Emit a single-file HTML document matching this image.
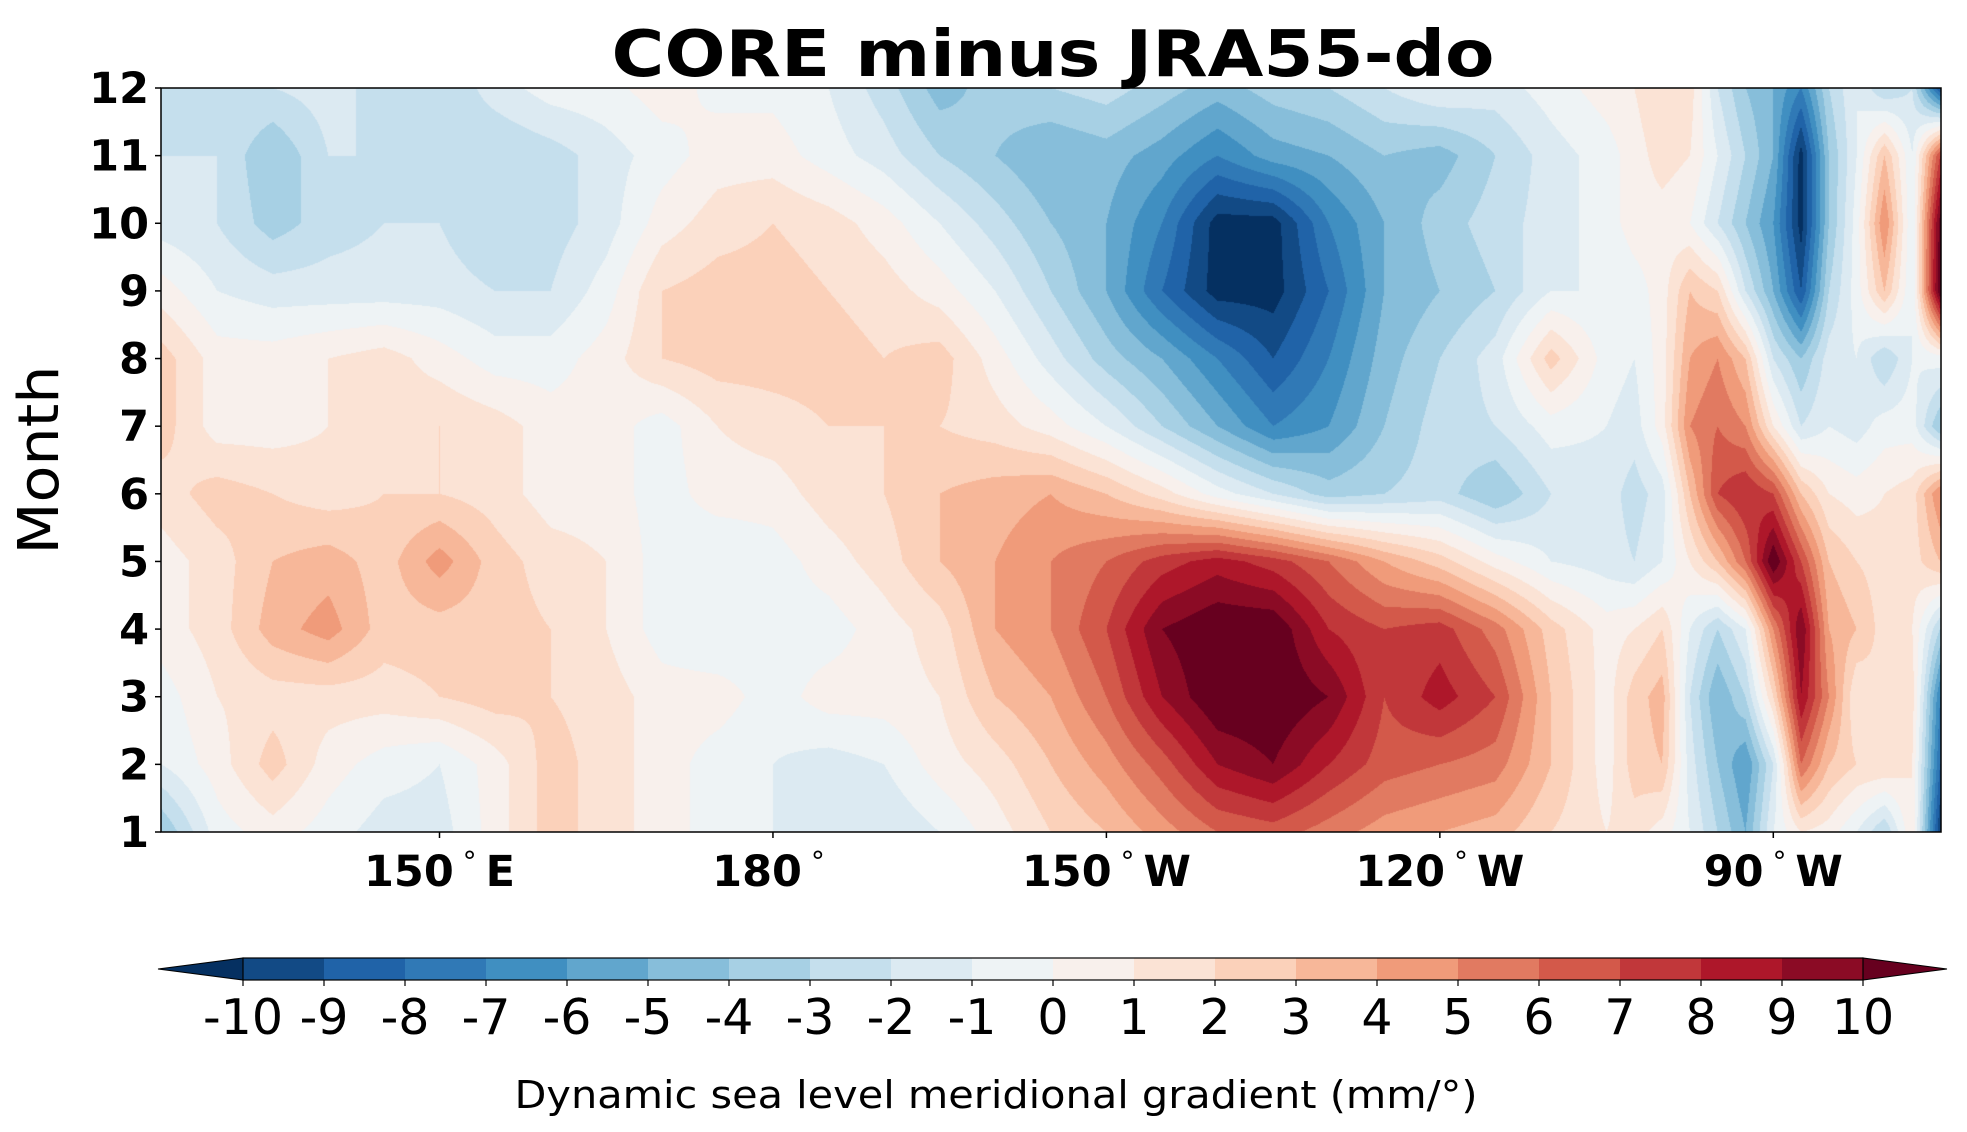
<!DOCTYPE html>
<html><head><meta charset="utf-8">
<style>
html,body{margin:0;padding:0;background:#fff;}
#wrap{position:relative;width:1967px;height:1132px;overflow:hidden;}
#heat{position:absolute;left:161px;top:88px;}
svg{position:absolute;left:0;top:0;}
text{font-family:"DejaVu Sans","Liberation Sans",sans-serif;fill:#000;}
</style></head>
<body>
<div id="wrap">
<canvas id="heat" width="1780" height="744"></canvas>
<svg id="svg" width="1967" height="1132"></svg>
</div>
<script>
const lons=[125,130,135,140,145,150,155,160,165,170,175,180,185,190,195,200,205,210,215,220,225,230,235,240,245,250,255,257.5,260,262.5,265,267.5,270,272.5,275,277.5,280,282.5,285];
const months=[1,2,3,4,5,6,7,8,9,10,11,12];
const m1=[-4,-0.5,0.5,-0.5,-1.5,-1.5,0.5,2.5,1.5,0.5,-0.5,-1,-2,-2,-1,0.5,2,3,4.5,6,6.5,5.5,4.5,4,3.5,2,1,1.5,0.5,-1,-3,-5,-1,1,0.5,-1,-3,1,-10];
const m2=[-1,0.5,2.5,0.5,-0.5,-1,0.5,2.5,1.5,0.5,-0.5,-1,-1.5,-1,0.5,1.5,3,4.5,6.5,9,10,8,6.5,6,5.5,3,0.5,2.5,3,-1.5,-4,-6,-2,6,3,2,2,1,-8];
const m3=[-0.5,1,1.5,1.5,1.5,2,2.5,2,1.5,0.5,0.5,-0.5,0.5,0.5,1,3,4,6,9,11,11,10,7,8.5,7,3,0.5,2.5,3.5,-2,-5,-3,2,9,5,1,2,1.5,-7];
const m4=[0.5,1.5,3.5,4.5,2.5,2.5,2.5,2,1,-0.5,-1,-0.5,-0.5,0.5,1.5,4,5,7,10,11,11,8,7,7.5,5.5,2.5,0.5,1,2,-1,-3,-1,5,10,4,3,1.5,1,-3];
const m5=[0.5,1.5,3,3.5,2.5,4.5,2.5,1.5,1,-0.5,-1,-0.5,0.5,1.5,3,4,5,6,7.5,8.5,7.5,6,4,2.5,0.5,-1,-1.5,-2,-1,1,3,6,11,7,3,2,1.5,1.5,3];
const m6=[1.5,2.5,2,1.5,2,2,1.5,0.5,0.5,-0.5,0.5,0.5,1.5,2,3,3.5,4,3,1.5,-0.5,-2,-3.5,-3,-2.5,-4,-2,-1.5,-2.5,-1.5,3,7,8,7,3,1,0.5,1,1.5,5];
const m7=[2.5,0.5,0.5,1,1.5,2,1.5,0.5,0.5,-0.5,1,1.5,2,2,2,1.5,0.5,-1,-3,-5,-7,-6,-4,-2.5,-2,-0.5,-1,-1.5,0.5,5,6,5,1,-2,-1,-1.5,-0.5,-0.5,-4];
const m8=[2.5,0.5,0.5,1,1.5,0.5,-0.5,-0.5,0.5,2,2.5,2.5,2.5,2,2.5,0.5,-1.5,-3.5,-5,-7,-9,-7,-4.5,-3,-1.5,2.5,-0.5,-1,0.5,4,5,3,-2,-4,-1.5,-1,-3,-1,-0.5];
const m9=[0.5,-1,-1.5,-1.5,-1.5,-1.5,-2,-2,-0.5,2,2.5,2.5,2,1.5,0.5,-1,-3,-5,-8,-10.5,-10.5,-8,-5,-4,-3,-1,-1,-0.5,0.5,3,2,-2,-5,-9,-3,-0.5,3,-1,11];
const m10=[-1.5,-2,-3.5,-2.5,-2,-2,-3,-2.5,-1.5,0.5,1.5,2,1.5,0.5,-1,-2.5,-4,-5,-7,-10.5,-10.5,-7,-5,-3.5,-2.5,-1.5,-0.5,0.5,0.5,0,-2,-4,-6,-10.5,-4,-0.5,5,-1,10.5];
const m11=[-2,-2,-4,-2,-2,-2.5,-3,-2.5,-1.5,-0.5,0.5,0.5,-0.5,-1.5,-3,-4,-5,-4.5,-5.5,-7,-5.5,-5,-4,-4.5,-3,-1.5,-0.5,0.5,1.5,1,-1,-3,-5,-10.5,-4,-1,3,-1,7];
const m12=[-3,-2,-2,-1.5,-2.5,-3,-1.5,-0.5,-0.3,0.5,-0.3,-0.3,-1,-2.5,-4.5,-3.5,-3,-2.5,-3.5,-4.5,-3.5,-3,-2,-1,-1.5,-0.5,0.5,1,2,1.5,-2,-4,-5,-7,-3,-1,-3,-2,-9];
const grid=[m1,m2,m3,m4,m5,m6,m7,m8,m9,m10,m11,m12];
const cbTicks=[-10,-9,-8,-7,-6,-5,-4,-3,-2,-1,0,1,2,3,4,5,6,7,8,9,10];
const yTicks=[1,2,3,4,5,6,7,8,9,10,11,12];
const xTickLons=[150,180,210,240,270];
const xTickNames=["150","180","150","120","90"];
const xTickHem=["E","","W","W","W"];

const PL=161,PR=1941,PT=88,PB=832;
const PX=11.115, X150=439.5;
function xs(lon){return X150+(lon-150)*PX;}
function ys(m){return PB-(m-1)/11*(PB-PT);}
function xinv(x){return 150+(x-X150)/PX;}
function yinv(y){return 1+(PB-y)/(PB-PT)*11;}

const anchors=["#053061","#2166ac","#4393c3","#92c5de","#d1e5f0","#f7f7f7","#fddbc7","#f4a582","#d6604d","#b2182b","#67001f"];
function hex(h){return [parseInt(h.substr(1,2),16),parseInt(h.substr(3,2),16),parseInt(h.substr(5,2),16)];}
function cmap(t){t=Math.max(0,Math.min(1,t));const f=t*10,i=Math.min(9,Math.floor(f)),r=f-i;const a=hex(anchors[i]),b=hex(anchors[i+1]);return [0,1,2].map(k=>Math.round(a[k]+(b[k]-a[k])*r));}
function binColor(v){let idx;if(v<-10)idx=0;else if(v>=10)idx=21;else idx=1+Math.floor(v+10);return cmap(idx/21);}
function rgb(c){return "rgb("+c.join(",")+")";}

function val(lon,m){
  let i=0;while(i<lons.length-2&&lons[i+1]<lon)i++;
  let tx=(lon-lons[i])/(lons[i+1]-lons[i]);tx=Math.max(0,Math.min(1,tx));
  let j=Math.min(10,Math.max(0,Math.floor(m-1)));let ty=Math.max(0,Math.min(1,m-1-j));
  const a=grid[j][i],b=grid[j][i+1],c=grid[j+1][i],d=grid[j+1][i+1];
  return (a*(1-tx)+b*tx)*(1-ty)+(c*(1-tx)+d*tx)*ty;
}
const cv=document.getElementById('heat'),ctx=cv.getContext('2d');
const W=cv.width,H=cv.height,img=ctx.createImageData(W,H);
for(let y=0;y<H;y++){const m=yinv(PT+y+0.5);for(let x=0;x<W;x++){const c=binColor(val(xinv(PL+x+0.5),m));const p=(y*W+x)*4;img.data[p]=c[0];img.data[p+1]=c[1];img.data[p+2]=c[2];img.data[p+3]=255;}}
ctx.putImageData(img,0,0);

const svg=document.getElementById('svg');const NS="http://www.w3.org/2000/svg";
function el(tag,attrs,txt){const e=document.createElementNS(NS,tag);for(const k in attrs)e.setAttribute(k,attrs[k]);if(txt!==undefined)e.textContent=txt;svg.appendChild(e);return e;}
let e;
e=el('rect',{x:PL,y:PT,width:PR-PL,height:PB-PT,fill:'none',stroke:'#000','stroke-width':1.5});


e=el('text',{x:1053,y:76,'text-anchor':'middle','font-size':64,'font-weight':'bold',textLength:883,lengthAdjust:'spacingAndGlyphs'},'CORE minus JRA55-do');


yTicks.forEach(m=>{
  const y=ys(m);
  let t=el('line',{x1:PL-6,x2:PL,y1:y,y2:y,stroke:'#000','stroke-width':1.5});
  
  
  let l=el('text',{x:149,y:y+15,'text-anchor':'end','font-size':43,'font-weight':'bold'},String(m));
  
  
});
e=el('text',{x:0,y:0,transform:'translate(58,460) rotate(-90)','text-anchor':'middle','font-size':56,textLength:189,lengthAdjust:'spacingAndGlyphs'},'Month');


xTickLons.forEach((lon,i)=>{
  const x=xs(lon);
  let t=el('line',{x1:x,x2:x,y1:PB,y2:PB+6,stroke:'#000','stroke-width':1.5});
  
  
  let l=el('text',{x:x,y:886,'text-anchor':'middle','font-size':43,'font-weight':'bold'});
  
  
  const a=document.createElementNS(NS,'tspan');a.textContent=xTickNames[i];l.appendChild(a);
  const b=document.createElementNS(NS,'tspan');b.setAttribute('font-size','28');b.setAttribute('font-weight','normal');b.setAttribute('dy','-15');b.textContent='\u00a0\u00b0\u00a0';l.appendChild(b);
  const c=document.createElementNS(NS,'tspan');c.setAttribute('dy','15');c.textContent=xTickHem[i];l.appendChild(c);
});
// colorbar
const CB0=243,CB1=1863,CBT=958,CBB=980;
function cx(v){return CB0+(v+10)/20*(CB1-CB0);}
e=el('polygon',{points:`158,${(CBT+CBB)/2} ${CB0},${CBT} ${CB0},${CBB}`,fill:rgb(cmap(0)),stroke:'#000','stroke-width':1});


e=el('polygon',{points:`1947,${(CBT+CBB)/2} ${CB1},${CBT} ${CB1},${CBB}`,fill:rgb(cmap(1)),stroke:'#000','stroke-width':1});


for(let k=0;k<cbTicks.length-1;k++){
  const v=cbTicks[k];
  let r=el('rect',{x:cx(v),y:CBT,width:cx(cbTicks[k+1])-cx(v)+0.5,height:CBB-CBT,fill:rgb(cmap((k+1)/21))});
  
  
}
e=el('rect',{x:CB0,y:CBT,width:CB1-CB0,height:CBB-CBT,fill:'none',stroke:'#000','stroke-width':1.2});


cbTicks.forEach(v=>{
  const x=cx(v);
  let t=el('line',{x1:x,x2:x,y1:CBB,y2:CBB+6,stroke:'#000','stroke-width':1.2});
  
  
  let l=el('text',{x:x,y:1034,'text-anchor':'middle','font-size':49},String(v));
  
  
});
e=el('text',{x:996,y:1108,'text-anchor':'middle','font-size':38,textLength:963,lengthAdjust:'spacingAndGlyphs'},'Dynamic sea level meridional gradient (mm/°)');


</script>
</body></html>
